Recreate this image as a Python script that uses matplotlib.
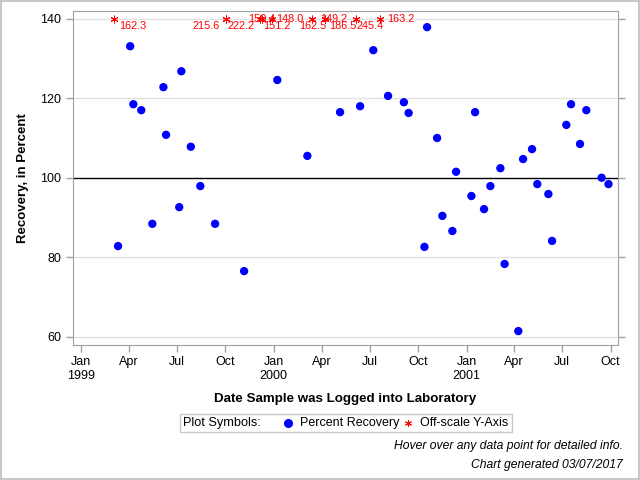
import matplotlib
matplotlib.use("Agg")
import matplotlib.pyplot as plt
import matplotlib.dates as mdates
from matplotlib.patches import Rectangle
from matplotlib.lines import Line2D
import numpy as np
import datetime as dt

plt.rcParams['font.family'] = ['Liberation Sans', 'DejaVu Sans']

# ---- data ----
rec_dates = ["1999-03-12", "1999-04-04", "1999-04-10", "1999-04-25", "1999-05-16",
             "1999-06-06", "1999-06-11", "1999-07-06", "1999-07-10", "1999-07-28",
             "1999-08-15", "1999-09-12", "1999-11-06", "2000-01-08", "2000-03-05",
             "2000-05-06", "2000-06-13", "2000-07-08", "2000-08-05", "2000-09-04",
             "2000-09-13", "2000-10-13", "2000-10-18", "2000-11-06", "2000-11-16",
             "2000-12-05", "2000-12-12", "2001-01-10", "2001-01-17", "2001-02-03",
             "2001-02-15", "2001-03-06", "2001-03-14", "2001-04-09", "2001-04-18",
             "2001-05-05", "2001-05-15", "2001-06-05", "2001-06-12", "2001-07-09",
             "2001-07-18", "2001-08-04", "2001-08-16", "2001-09-14", "2001-09-27"]
rec_values = [82.8, 133.1, 118.5, 117.0, 88.4,
              122.8, 110.8, 92.6, 126.8, 107.8,
              97.9, 88.4, 76.5, 124.6, 105.5,
              116.5, 118.0, 132.1, 120.6, 119.0,
              116.3, 82.6, 137.9, 110.0, 90.4,
              86.6, 101.5, 95.4, 116.5, 92.1,
              97.9, 102.4, 78.3, 61.4, 104.7,
              107.2, 98.4, 95.9, 84.1, 113.3,
              118.5, 108.5, 117.0, 100.0, 98.4]

off_dates = ["1999-03-05", "1999-10-02", "1999-10-02", "1999-12-06", "1999-12-10",
             "1999-12-29", "2000-03-13", "2000-04-08", "2000-04-08", "2000-06-05",
             "2000-07-20"]
off_values = [162.3, 215.6, 222.2, 150.4, 151.2, 148.0, 162.5, 149.2, 186.5, 245.4, 163.2]

y_max = 140
ref_value = 100
y_ticks = [60, 80, 100, 120, 140]

# label placement (style): (dx points, dy points, ha)
off_label_style = [(3.4, -5, 'left'), (-4, -5, 'right'), (1, -5, 'left'), (1, 0, 'center'),
                   (0.5, -5, 'left'), (3, 0, 'left'), (1, -5, 'center'), (-3.6, 0, 'left'),
                   (3, -5, 'left'), (0.7, -5, 'left'), (5.3, 0, 'left')]

to_d = lambda s: dt.datetime.strptime(s, "%Y-%m-%d")
rx = [to_d(s) for s in rec_dates]
ox = [to_d(s) for s in off_dates]

fig = plt.figure(figsize=(6.4, 4.8), dpi=100)
fig.patch.set_edgecolor('#c8c8c8')
fig.patch.set_linewidth(1.5)
ax = fig.add_axes([0.1136, 0.28125, 0.852, 0.6953])

gray = '#a0a0a0'
for y in y_ticks:
    if y != ref_value:
        ax.axhline(y, color='#e1e1e1', lw=1, zorder=0)
ax.axhline(ref_value, color='black', lw=1, zorder=1)

ax.scatter(rx, rec_values, s=36, color='#0000ff', edgecolors='none', zorder=3)
ax.scatter(ox, [y_max] * len(ox), s=26, marker=(6, 2, 0), color='red', linewidths=0.7, zorder=3)
for d, v, (dx, dy, ha) in zip(ox, off_values, off_label_style):
    ax.annotate(f"{v:.1f}", (mdates.date2num(d), y_max), xytext=(dx, dy),
                textcoords='offset points', ha=ha, va='center', color='red', fontsize=7.8, zorder=4)

ax.set_xlim(mdates.date2num(dt.datetime(1998, 12, 16)), mdates.date2num(dt.datetime(2001, 10, 15)))
ax.set_ylim(57.9, 141.9)
ax.set_yticks(y_ticks)

xt = [dt.datetime(y, m, 1) for y in (1999, 2000, 2001) for m in (1, 4, 7, 10)]
ax.set_xticks([mdates.date2num(d) for d in xt])
ax.set_xticklabels([d.strftime('%b') + ("\n" + str(d.year) if d.month == 1 else "") for d in xt])

for s in ax.spines.values():
    s.set_color(gray)
ax.tick_params(axis='both', colors=gray, labelcolor='black', labelsize=9, length=5, width=1,
               right=True, direction='out')
ax.tick_params(axis='x', pad=3)

ax.set_ylabel("Recovery, in Percent", fontsize=9.5, fontweight='bold', labelpad=8)
ax.set_xlabel("Date Sample was Logged into Laboratory", fontsize=9.6, fontweight='bold', labelpad=8)

# legend box
fig.patches.append(Rectangle((180 / 640, 1 - 432 / 480), 332 / 640, 18 / 480, transform=fig.transFigure,
                             facecolor='white', edgecolor='#c8c8c8', lw=1))
ly = 1 - 423 / 480
fig.text(183 / 640, ly, "Plot Symbols:", fontsize=9.2, va='center', ha='left')
fig.lines.append(Line2D([288 / 640], [ly], marker='o', ms=5.5, color='#0000ff', ls='none',
                        transform=fig.transFigure))
fig.text(300 / 640, ly, "Percent Recovery", fontsize=9, va='center', ha='left')
fig.lines.append(Line2D([408 / 640], [ly], marker=(6, 2, 0), ms=5, color='red', ls='none', mew=0.7,
                        transform=fig.transFigure))
fig.text(420 / 640, ly, "Off-scale Y-Axis", fontsize=9, va='center', ha='left')

fig.text(623 / 640, 1 - 446 / 480, "Hover over any data point for detailed info.", fontsize=8.7,
         style='italic', ha='right', va='center')
fig.text(623 / 640, 1 - 465 / 480, "Chart generated 03/07/2017", fontsize=8.7,
         style='italic', ha='right', va='center')

fig.savefig("out.png", dpi=100)
